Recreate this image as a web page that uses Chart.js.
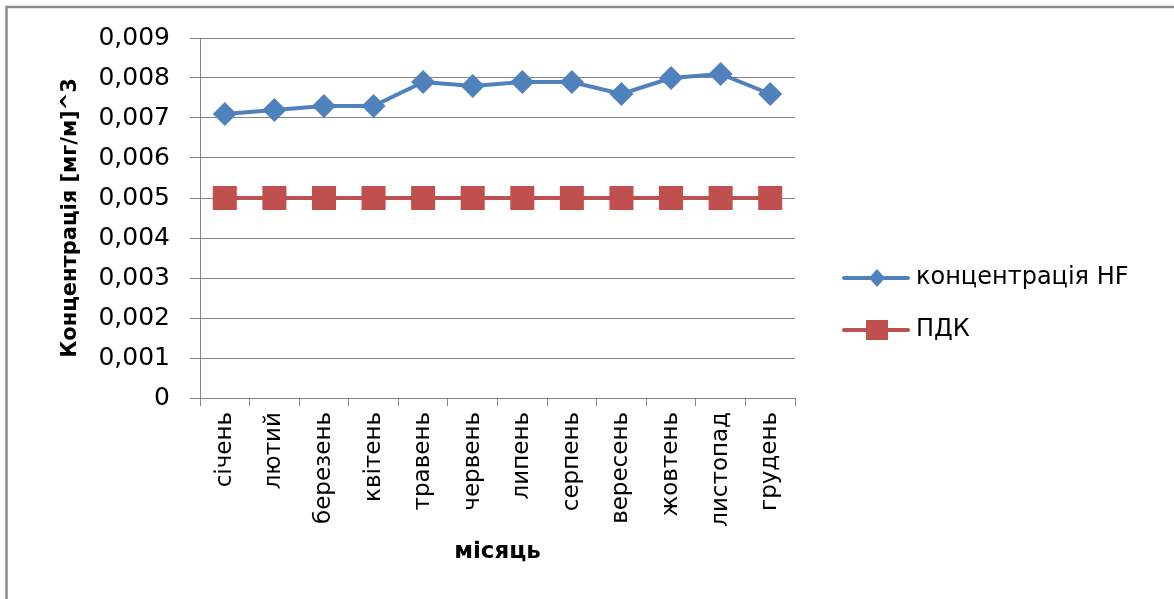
<!DOCTYPE html>
<html>
<head>
<meta charset="utf-8">
<script src="https://cdn.jsdelivr.net/npm/chart.js@4"></script>
<style>
  html, body { margin: 0; padding: 0; background: #fff; }
  #wrap { width: 1174px; height: 599px; }
</style>
</head>
<body>
<div id="wrap"><canvas id="chart" width="1174" height="599"></canvas></div>
<script>
// Monthly HF concentration against the maximum permissible level (ПДК)
const months = ['січень', 'лютий', 'березень', 'квітень', 'травень', 'червень',
                'липень', 'серпень', 'вересень', 'жовтень', 'листопад', 'грудень'];
const hfConcentration = [0.0071, 0.0072, 0.0073, 0.0073, 0.0079, 0.0078,
                         0.0079, 0.0079, 0.0076, 0.0080, 0.0081, 0.0076];
const pdkLimit = [0.005, 0.005, 0.005, 0.005, 0.005, 0.005,
                  0.005, 0.005, 0.005, 0.005, 0.005, 0.005];
const yTickValues = [0, 0.001, 0.002, 0.003, 0.004, 0.005, 0.006, 0.007, 0.008, 0.009];
const seriesNames = ['концентрація HF', 'ПДК'];
const xAxisTitle = 'місяць';
const yAxisTitle = 'Концентрація [мг/м]^3';

const BLUE = '#4F81BD';
const RED = '#C0504D';
const GRID = '#868686';
const FONT = "'DejaVu Sans', sans-serif";

// Legend swatch: a short line with the series marker on it
function legendSwatch(color, shape) {
  const c = document.createElement('canvas');
  c.width = 93; c.height = 30;
  const g = c.getContext('2d');
  g.strokeStyle = color; g.lineWidth = 4; g.lineCap = 'round';
  g.beginPath(); g.moveTo(27, 15); g.lineTo(91, 15); g.stroke();
  g.fillStyle = color;
  if (shape === 'diamond') {
    g.beginPath(); g.moveTo(60, 6); g.lineTo(68, 15); g.lineTo(60, 24); g.lineTo(52, 15);
    g.closePath(); g.fill();
  } else {
    g.fillRect(49, 5, 22, 20);
  }
  return c;
}
const swatches = [legendSwatch(BLUE, 'diamond'), legendSwatch(RED, 'square')];

// Reserve the right margin so the plot ends at the same place for any legend text width
const LEGEND_FONT_SIZE = 24, LEGEND_PAD = 28, SWATCH_W = 81;
const mctx = document.createElement('canvas').getContext('2d');
mctx.font = LEGEND_FONT_SIZE + 'px ' + FONT;
const legendTextW = Math.max(...seriesNames.map(t => mctx.measureText(t).width));
const plotRight = 795;
const padRight = Math.max(0, 1174 - plotRight - (LEGEND_PAD + 10) - (SWATCH_W + LEGEND_FONT_SIZE / 2) - legendTextW);

const framePlugin = {
  id: 'frame',
  beforeDraw(chart) {
    const ctx = chart.ctx;
    ctx.save();
    ctx.fillStyle = '#fff';
    ctx.fillRect(0, 0, chart.width, chart.height);
    ctx.strokeStyle = '#8a8a8a';
    ctx.lineWidth = 2.5;
    ctx.strokeRect(6.5, 7, chart.width + 50, chart.height + 50);
    ctx.restore();
  }
};

new Chart(document.getElementById('chart'), {
  type: 'line',
  data: {
    labels: months,
    datasets: [
      {
        label: seriesNames[0],
        data: hfConcentration,
        borderColor: BLUE,
        backgroundColor: BLUE,
        borderWidth: 4,
        pointStyle: 'rectRot',
        pointRadius: 12,
        pointBorderWidth: 0,
        pointBackgroundColor: BLUE,
        tension: 0
      },
      {
        label: seriesNames[1],
        data: pdkLimit,
        borderColor: RED,
        backgroundColor: RED,
        borderWidth: 4,
        pointStyle: 'rect',
        pointRadius: 17,
        pointBorderWidth: 0,
        pointBackgroundColor: RED,
        tension: 0
      }
    ]
  },
  options: {
    responsive: false,
    animation: false,
    events: [],
    layout: { padding: { left: 10, top: 38, right: padRight, bottom: 29 } },
    plugins: {
      tooltip: { enabled: false },
      legend: {
        position: 'right',
        align: 'center',
        maxWidth: 500,
        labels: {
          usePointStyle: true,
          pointStyleWidth: SWATCH_W,
          padding: LEGEND_PAD,
          color: '#000',
          font: { family: FONT, size: LEGEND_FONT_SIZE },
          generateLabels: chart => chart.data.datasets.map((ds, i) => ({
            text: ds.label,
            pointStyle: swatches[i],
            fillStyle: ds.borderColor,
            strokeStyle: ds.borderColor,
            lineWidth: 0,
            hidden: false,
            datasetIndex: i,
            fontColor: '#000'
          }))
        }
      }
    },
    scales: {
      x: {
        offset: true,
        afterFit: s => { s.height = 172; },
        grid: { offset: true, drawOnChartArea: false, drawTicks: true, tickLength: 8, color: GRID, tickColor: GRID },
        border: { color: GRID, width: 1 },
        ticks: {
          minRotation: 90, maxRotation: 90, autoSkip: false, padding: 6,
          color: '#000', font: { family: FONT, size: 23 }
        },
        title: {
          display: true, text: xAxisTitle, color: '#000',
          font: { family: FONT, size: 23, weight: 'bold' },
          padding: { top: 0, bottom: 4 }
        }
      },
      y: {
        min: 0, max: 0.009,
        afterFit: s => { s.width = 190; },
        afterBuildTicks: s => { s.ticks = yTickValues.map(v => ({ value: v })); },
        grid: { color: GRID, tickColor: GRID, tickLength: 10, lineWidth: 1 },
        border: { color: GRID, width: 1 },
        ticks: {
          padding: 20, color: '#000',
          font: { family: FONT, size: 25 },
          callback: v => v === 0 ? '0' : v.toFixed(3).replace('.', ',')
        },
        title: {
          display: true, text: yAxisTitle, color: '#000',
          font: { family: FONT, size: 21, weight: 'bold' },
          padding: { top: 48, bottom: 0 }
        }
      }
    }
  },
  plugins: [framePlugin]
});
</script>
</body>
</html>
